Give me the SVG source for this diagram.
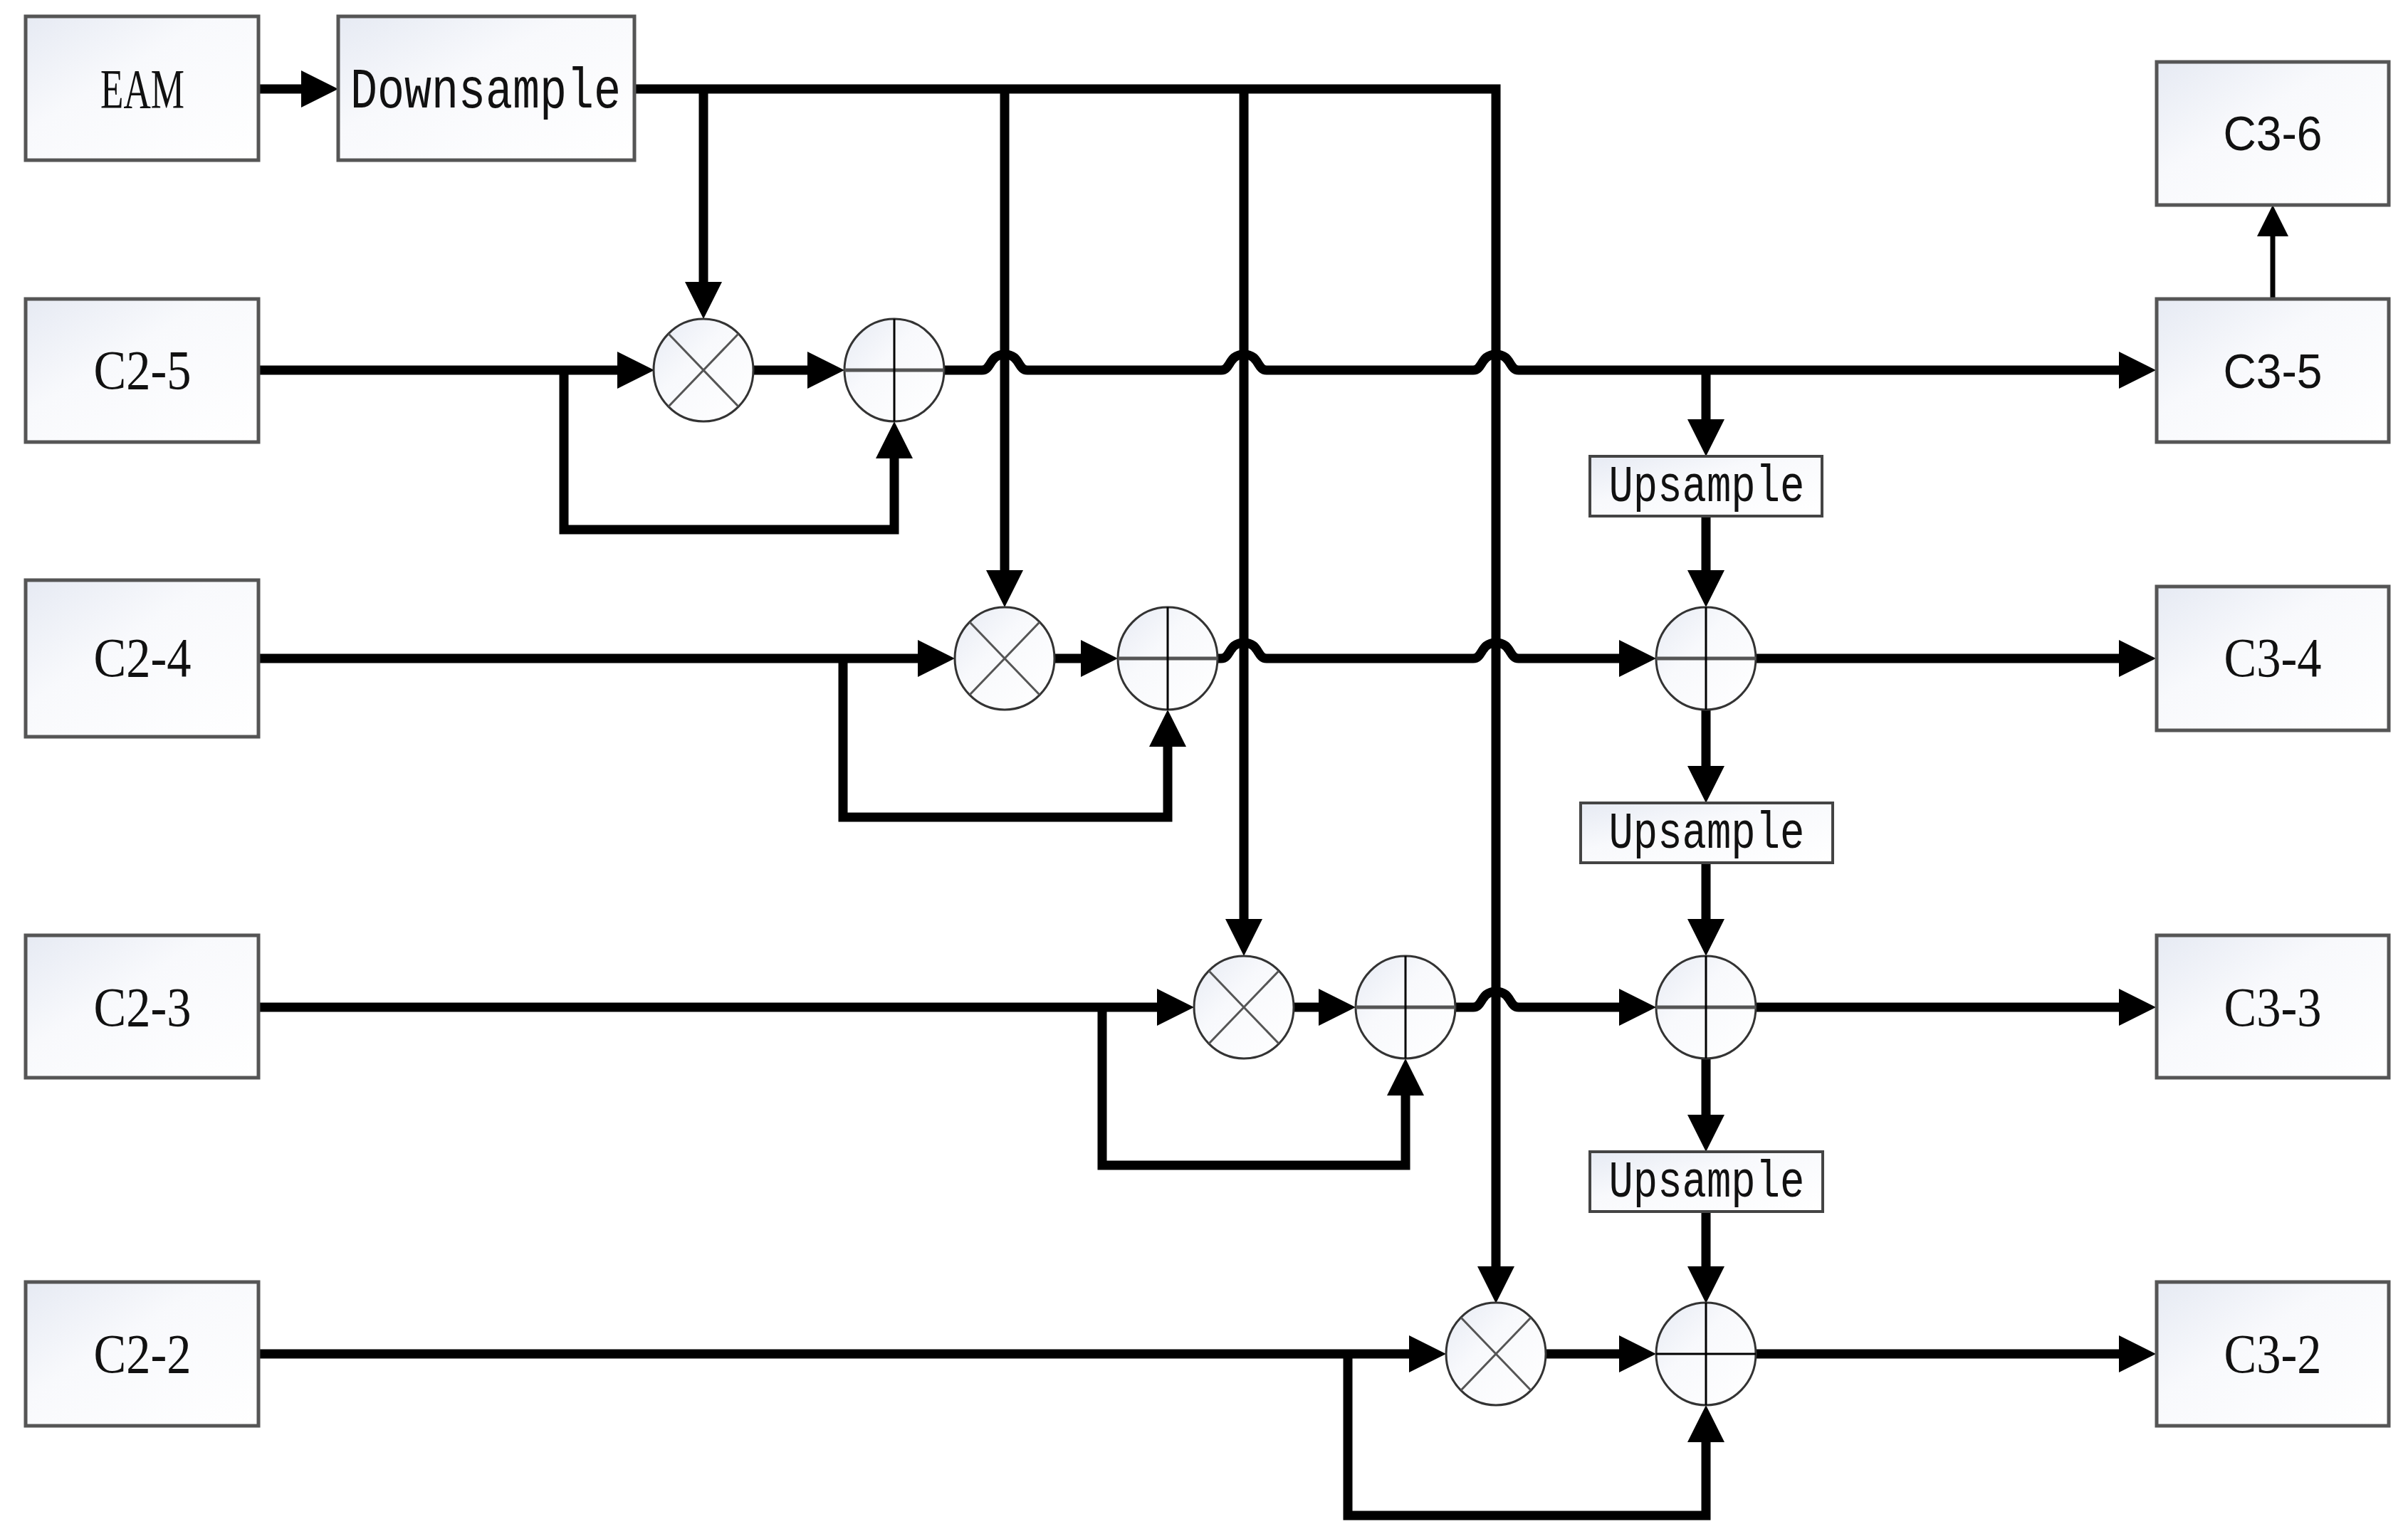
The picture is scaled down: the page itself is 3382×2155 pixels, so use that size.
<svg xmlns="http://www.w3.org/2000/svg" width="3382" height="2155" viewBox="0 0 3382 2155">
<defs>
<linearGradient id="boxfill" x1="0" y1="0" x2="1" y2="1">
<stop offset="0" stop-color="#e6eaf3"/>
<stop offset="0.4" stop-color="#f8f9fc"/>
<stop offset="1" stop-color="#ffffff"/>
</linearGradient>
<marker id="arr" markerUnits="userSpaceOnUse" markerWidth="52" markerHeight="52" viewBox="0 0 52 52" refX="12" refY="26" orient="auto">
<path d="M0,0 L52,26 L0,52 Z" fill="#000"/>
</marker>
<marker id="arrs" markerUnits="userSpaceOnUse" markerWidth="44" markerHeight="44" viewBox="0 0 44 44" refX="10" refY="22" orient="auto">
<path d="M0,0 L44,22 L0,44 Z" fill="#000"/>
</marker>
</defs>
<style>
.box{fill:url(#boxfill);stroke:#555;stroke-width:5}
.ubox{fill:url(#boxfill);stroke:#444;stroke-width:4}
.op{fill:url(#boxfill);stroke:#333;stroke-width:3}
.xl{stroke:#555;stroke-width:3}
.pv{stroke:#000;stroke-width:3}
.ph{stroke:#555;stroke-width:5}
.ln{fill:none;stroke:#000;stroke-width:13;stroke-linejoin:miter}
.la{marker-end:url(#arr)}
.serif{font-family:"Liberation Serif","Times New Roman",serif;font-size:78px;fill:#111}
.sans{font-family:"Liberation Sans",Arial,sans-serif;font-size:68px;fill:#111}
.mono{font-family:"Liberation Mono","Courier New",monospace;fill:#111}
</style>
<rect width="3382" height="2155" fill="#fff"/>

<g id="connectors">
<path class="ln la" d="M363,125 H435"/>
<path class="ln la" d="M891,125 H2101 V1791"/>
<path class="ln la" d="M988,125 V408"/>
<path class="ln la" d="M1411,125 V813"/>
<path class="ln la" d="M1747,125 V1303"/>

<path class="ln la" d="M363,520 H879"/>
<path class="ln la" d="M792,520 V744 H1256 V632"/>
<path class="ln la" d="M1058,520 H1146"/>
<path class="ln la" d="M1326,520 H1379 C1393,520 1389,498 1411,498 C1433,498 1429,520 1443,520 H1715 C1729,520 1725,498 1747,498 C1769,498 1765,520 1779,520 H2069 C2083,520 2079,498 2101,498 C2123,498 2119,520 2133,520 H2988"/>
<path class="ln la" d="M2396,520 V601"/>

<path class="ln la" d="M2396,725 V813"/>
<path class="ln la" d="M363,925 H1301"/>
<path class="ln la" d="M1184,925 V1148 H1640 V1037"/>
<path class="ln la" d="M1480,925 H1530"/>
<path class="ln la" d="M1710,925 H1715 C1729,925 1725,903 1747,903 C1769,903 1765,925 1779,925 H2069 C2083,925 2079,903 2101,903 C2123,903 2119,925 2133,925 H2286"/>
<path class="ln la" d="M2466,925 H2988"/>
<path class="ln la" d="M2396,997 V1088"/>
<path class="ln la" d="M2396,1212 V1303"/>

<path class="ln la" d="M363,1415 H1637"/>
<path class="ln la" d="M1548,1415 V1637 H1974 V1527"/>
<path class="ln la" d="M1817,1415 H1864"/>
<path class="ln la" d="M2044,1415 H2069 C2083,1415 2079,1393 2101,1393 C2123,1393 2119,1415 2133,1415 H2286"/>
<path class="ln la" d="M2466,1415 H2988"/>
<path class="ln la" d="M2396,1487 V1578"/>
<path class="ln la" d="M2396,1702 V1791"/>

<path class="ln la" d="M363,1902 H1991"/>
<path class="ln la" d="M1893,1902 V2129 H2396 V2014"/>
<path class="ln la" d="M2171,1902 H2286"/>
<path class="ln la" d="M2466,1902 H2988"/>

<path d="M3192,421 V322" fill="none" stroke="#000" stroke-width="7" marker-end="url(#arrs)"/>
</g>

<g id="EAM"><rect class="box" x="36" y="23" width="327" height="202"/><text class="serif" x="200" y="151" text-anchor="middle" textLength="118" lengthAdjust="spacingAndGlyphs">EAM</text></g>
<g id="Downsample"><rect class="box" x="475" y="23" width="416" height="202"/><text class="mono" font-size="80" x="682" y="151" text-anchor="middle" textLength="380" lengthAdjust="spacingAndGlyphs">Downsample</text></g>

<g id="C2-5"><rect class="box" x="36" y="420" width="327" height="201"/><text class="serif" x="200" y="546" text-anchor="middle" textLength="137" lengthAdjust="spacingAndGlyphs">C2-5</text></g>
<g id="C2-4"><rect class="box" x="36" y="815" width="327" height="220"/><text class="serif" x="200" y="950" text-anchor="middle" textLength="137" lengthAdjust="spacingAndGlyphs">C2-4</text></g>
<g id="C2-3"><rect class="box" x="36" y="1314" width="327" height="200"/><text class="serif" x="200" y="1441" text-anchor="middle" textLength="137" lengthAdjust="spacingAndGlyphs">C2-3</text></g>
<g id="C2-2"><rect class="box" x="36" y="1801" width="327" height="202"/><text class="serif" x="200" y="1928" text-anchor="middle" textLength="137" lengthAdjust="spacingAndGlyphs">C2-2</text></g>

<g id="C3-6"><rect class="box" x="3029" y="87" width="326" height="201"/><text class="sans" x="3192" y="211" text-anchor="middle" textLength="139" lengthAdjust="spacingAndGlyphs">C3-6</text></g>
<g id="C3-5"><rect class="box" x="3029" y="420" width="326" height="201"/><text class="sans" x="3192" y="545" text-anchor="middle" textLength="139" lengthAdjust="spacingAndGlyphs">C3-5</text></g>
<g id="C3-4"><rect class="box" x="3029" y="824" width="326" height="202"/><text class="serif" x="3192" y="950" text-anchor="middle" textLength="137" lengthAdjust="spacingAndGlyphs">C3-4</text></g>
<g id="C3-3"><rect class="box" x="3029" y="1314" width="326" height="200"/><text class="serif" x="3192" y="1441" text-anchor="middle" textLength="137" lengthAdjust="spacingAndGlyphs">C3-3</text></g>
<g id="C3-2"><rect class="box" x="3029" y="1801" width="326" height="202"/><text class="serif" x="3192" y="1928" text-anchor="middle" textLength="137" lengthAdjust="spacingAndGlyphs">C3-2</text></g>

<g id="Upsample-1"><rect class="ubox" x="2233" y="641" width="326" height="84"/><text class="mono" font-size="73" x="2397" y="704" text-anchor="middle" textLength="275" lengthAdjust="spacingAndGlyphs">Upsample</text></g>
<g id="Upsample-2"><rect class="ubox" x="2220" y="1128" width="354" height="84"/><text class="mono" font-size="73" x="2397" y="1191" text-anchor="middle" textLength="275" lengthAdjust="spacingAndGlyphs">Upsample</text></g>
<g id="Upsample-3"><rect class="ubox" x="2233" y="1618" width="327" height="84"/><text class="mono" font-size="73" x="2397" y="1681" text-anchor="middle" textLength="275" lengthAdjust="spacingAndGlyphs">Upsample</text></g>

<g id="mul-5"><ellipse class="op" cx="988" cy="520" rx="70" ry="72"/><line class="xl" x1="939" y1="469" x2="1037" y2="571"/><line class="xl" x1="1037" y1="469" x2="939" y2="571"/></g>
<g id="add-5"><ellipse class="op" cx="1256" cy="520" rx="70" ry="72"/><line class="ph" x1="1186" y1="520" x2="1326" y2="520"/><line class="pv" x1="1256" y1="448" x2="1256" y2="592"/></g>
<g id="mul-4"><ellipse class="op" cx="1411" cy="925" rx="70" ry="72"/><line class="xl" x1="1362" y1="874" x2="1460" y2="976"/><line class="xl" x1="1460" y1="874" x2="1362" y2="976"/></g>
<g id="add-4"><ellipse class="op" cx="1640" cy="925" rx="70" ry="72"/><line class="ph" x1="1570" y1="925" x2="1710" y2="925"/><line class="pv" x1="1640" y1="853" x2="1640" y2="997"/></g>
<g id="mul-3"><ellipse class="op" cx="1747" cy="1415" rx="70" ry="72"/><line class="xl" x1="1698" y1="1364" x2="1796" y2="1466"/><line class="xl" x1="1796" y1="1364" x2="1698" y2="1466"/></g>
<g id="add-3"><ellipse class="op" cx="1974" cy="1415" rx="70" ry="72"/><line class="ph" x1="1904" y1="1415" x2="2044" y2="1415"/><line class="pv" x1="1974" y1="1343" x2="1974" y2="1487"/></g>
<g id="mul-2"><ellipse class="op" cx="2101" cy="1902" rx="70" ry="72"/><line class="xl" x1="2052" y1="1851" x2="2150" y2="1953"/><line class="xl" x1="2150" y1="1851" x2="2052" y2="1953"/></g>
<g id="sum-4"><ellipse class="op" cx="2396" cy="925" rx="70" ry="72"/><line class="ph" x1="2326" y1="925" x2="2466" y2="925"/><line class="pv" x1="2396" y1="853" x2="2396" y2="997"/></g>
<g id="sum-3"><ellipse class="op" cx="2396" cy="1415" rx="70" ry="72"/><line class="ph" x1="2326" y1="1415" x2="2466" y2="1415"/><line class="pv" x1="2396" y1="1343" x2="2396" y2="1487"/></g>
<g id="sum-2"><ellipse class="op" cx="2396" cy="1902" rx="70" ry="72"/><line class="pv" x1="2326" y1="1902" x2="2466" y2="1902"/><line class="pv" x1="2396" y1="1830" x2="2396" y2="1974"/></g>
</svg>
